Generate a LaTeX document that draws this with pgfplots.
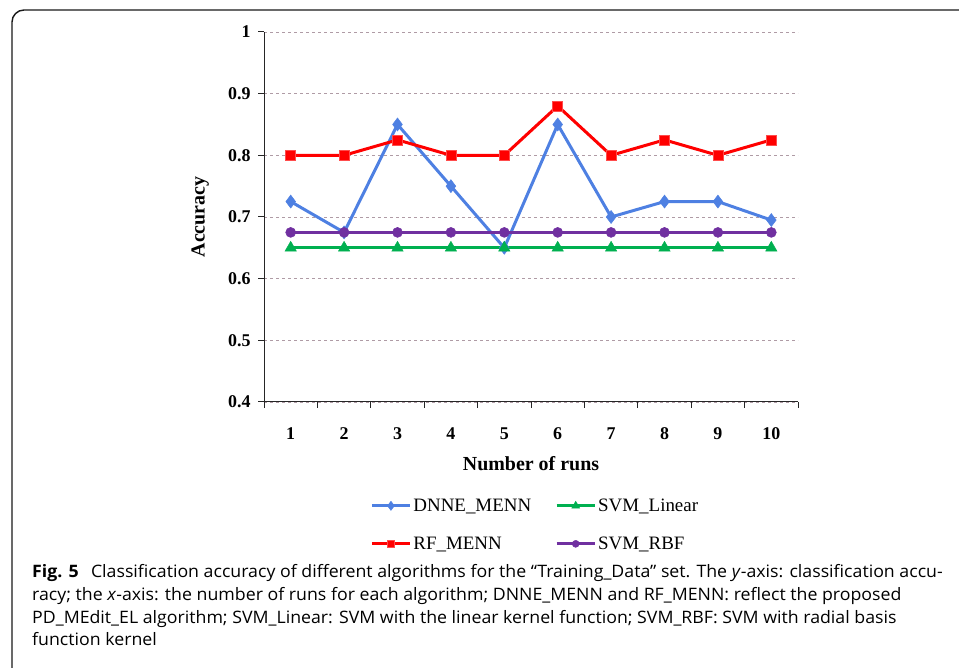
\documentclass[border=0pt]{standalone}
\usepackage{pgfplots}
\pgfplotsset{compat=1.18}
\usepackage{fontspec}
\setmainfont{Liberation Serif}
\newfontfamily\capfont[FakeStretch=1.035]{Open Sans}
\definecolor{cblue}{RGB}{78,128,226}
\definecolor{cred}{RGB}{255,0,0}
\definecolor{cgreen}{RGB}{0,176,80}
\definecolor{cpurple}{RGB}{112,48,160}
\definecolor{cgrid}{RGB}{175,155,165}
\begin{document}
\begin{tikzpicture}[x=1bp,y=1bp]
\draw[line width=1.4bp, black!90] (12,-2) -- (12,646) arc[start angle=180,end angle=90,radius=12] -- (962,658);
\begin{axis}[
  at={(264bp,266bp)}, anchor=south west,
  scale only axis, width=534bp, height=370bp,
  xmin=0.5, xmax=10.5, ymin=0.4, ymax=1,
  axis x line*=bottom, axis y line*=left,
  axis line style={-, line width=1bp, black!85},
  xtick={0.5,1.5,...,10.5}, xticklabels={},
  extra x ticks={1,2,...,10},
  extra x tick style={major tick length=0pt},
  extra x tick labels={1,2,3,4,5,6,7,8,9,10},
  ytick={0.4,0.5,...,1.0},
  yticklabels={0.4,0.5,0.6,0.7,0.8,0.9,1},
  tick align=outside, major tick length=6bp,
  tick style={line width=1bp, black!85},
  ymajorgrids,
  major grid style={dashed, dash pattern=on 3bp off 3bp, cgrid, line width=0.9bp},
  ticklabel style={font=\bfseries\fontsize{18}{20}\selectfont},
  /pgf/number format/assume math mode=true,
  xticklabel style={yshift=-22bp},
  yticklabel style={xshift=-4bp},
  xlabel={Number of runs},
  ylabel={Accuracy},
  label style={font=\bfseries\fontsize{20}{22}\selectfont},
  xlabel style={at={(axis description cs:0.5,0)}, anchor=center, yshift=-62bp},
  ylabel style={at={(axis description cs:-0.1197,0.5)}, anchor=center},
  legend style={at={(0.508,-0.332)}, anchor=center, draw=none, fill=none,
    font=\fontsize{19}{21}\selectfont, row sep=20bp,
    /tikz/column 2/.style={column sep=22bp}},
  legend columns=2, transpose legend,
  legend cell align=left,
  legend image code/.code={\draw[mark repeat=2,mark phase=2,#1,every mark/.append style={scale=0.7}] plot coordinates {(0bp,0bp) (19bp,0bp) (38bp,0bp)};},
  every axis plot/.append style={line width=3bp},
]
\addplot[cblue, mark=diamond*, mark size=6.5bp, mark options={solid, line width=0.5bp}] coordinates {
(1,0.725) (2,0.675) (3,0.85) (4,0.75) (5,0.65) (6,0.85) (7,0.70) (8,0.725) (9,0.725) (10,0.695)};
\addlegendentry{DNNE\_MENN}
\addplot[cred, mark=square*, mark size=5bp, mark options={solid, line width=0.5bp, fill=cred, draw=cred!70}] coordinates {
(1,0.80) (2,0.80) (3,0.825) (4,0.80) (5,0.80) (6,0.88) (7,0.80) (8,0.825) (9,0.80) (10,0.825)};
\addlegendentry{RF\_MENN}
\addplot[cgreen, mark=triangle*, mark size=6.5bp, mark options={solid, line width=0.5bp}] coordinates {
(1,0.65) (2,0.65) (3,0.65) (4,0.65) (5,0.65) (6,0.65) (7,0.65) (8,0.65) (9,0.65) (10,0.65)};
\addlegendentry{SVM\_Linear}
\addplot[cpurple, mark=*, mark size=5bp, mark options={solid, line width=0.5bp}] coordinates {
(1,0.675) (2,0.675) (3,0.675) (4,0.675) (5,0.675) (6,0.675) (7,0.675) (8,0.675) (9,0.675) (10,0.675)};
\addlegendentry{SVM\_RBF}
\end{axis}
\node[anchor=base west, inner sep=0pt, align=left, font=\capfont\fontsize{17.2}{23}\selectfont] at (32,22) {%
\textbf{Fig. 5}\hspace{0.45em} Classification accuracy of different algorithms for the “Training\_Data” set. The \textit{y}-axis: classification accu-\\
racy; the \textit{x}-axis: the number of runs for each algorithm; DNNE\_MENN and RF\_MENN: reflect the proposed\\
PD\_MEdit\_EL algorithm; SVM\_Linear: SVM with the linear kernel function; SVM\_RBF: SVM with radial basis\\
function kernel};
\pgfresetboundingbox
\path[use as bounding box] (0,0) rectangle (959,668);
\end{tikzpicture}
\end{document}
